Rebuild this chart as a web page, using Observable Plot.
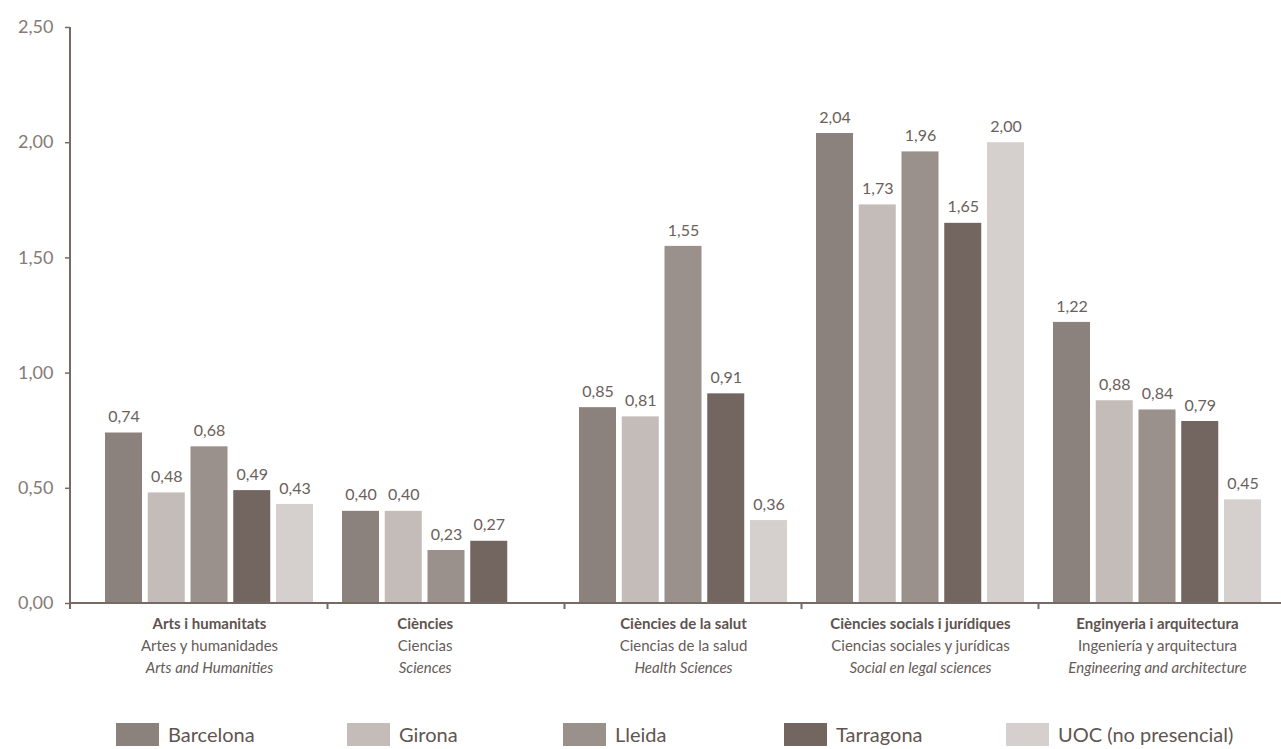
<!DOCTYPE html>
<html>
<head>
<meta charset="utf-8">
<script src="https://cdn.jsdelivr.net/npm/d3@7"></script>
<script src="https://cdn.jsdelivr.net/npm/@observablehq/plot@0.6"></script>
<style>
  html, body { margin: 0; padding: 0; background: #ffffff; }
  #wrap { position: relative; width: 1281px; height: 749px; font-family: Lato, "Open Sans", sans-serif; }
  #chart svg { display: block; }
  .lg-item { position: absolute; top: 723px; height: 23px; }
  .lg-sw { position: absolute; left: 0; top: 0; width: 43px; height: 23px; }
  .lg-tx { position: absolute; left: 52px; top: 0; line-height: 23px; font-size: 20px; color: #5f5550; white-space: nowrap; }
  g[aria-label="y-axis tick label"] text { font-size: 18px; }
</style>
</head>
<body>
<div id="wrap">
  <div id="chart"></div>
  <div id="legend"></div>
</div>
<script>
// ---- data ----
const categories = ["Arts i humanitats", "Ciències", "Ciències de la salut", "Ciències socials i jurídiques", "Enginyeria i arquitectura"];
const categoriesES = ["Artes y humanidades", "Ciencias", "Ciencias de la salud", "Ciencias sociales y jurídicas", "Ingeniería y arquitectura"];
const categoriesEN = ["Arts and Humanities", "Sciences", "Health Sciences", "Social en legal sciences", "Engineering and architecture"];
const cities = ["Barcelona", "Girona", "Lleida", "Tarragona", "UOC (no presencial)"];
const barcelona = [0.74, 0.40, 0.85, 2.04, 1.22];
const girona    = [0.48, 0.40, 0.81, 1.73, 0.88];
const lleida    = [0.68, 0.23, 1.55, 1.96, 0.84];
const tarragona = [0.49, 0.27, 0.91, 1.65, 0.79];
const uoc       = [0.43, null, 0.36, 2.00, 0.45];
const yTicks = [0, 0.5, 1, 1.5, 2, 2.5];

// ---- styles ----
const cityColors = ["#8c827d", "#c4bcb9", "#9b918c", "#736661", "#d5d0ce"];
const axisColor = "#766a65";
const legendLefts = [116, 347, 563, 784, 1006];

const series = [barcelona, girona, lleida, tarragona, uoc];
const rows = [];
categories.forEach((cat, ci) => {
  cities.forEach((city, si) => {
    const v = series[si][ci];
    if (v != null) rows.push({cat, city, value: v});
  });
});
const catRows = categories.map((cat, i) => ({
  cat, es: categoriesES[i], en: categoriesEN[i],
  n: series.filter(s => s[i] != null).length
}));
const fmt = v => v.toFixed(2).replace(".", ",");

function catLabelMarks(data, xKey, dx) {
  return [
    Plot.text(data, {fx: "cat", x: () => xKey, y: () => 0, text: "cat", dx, dy: 21,
      fontSize: 15, fontWeight: 700, fill: "#5e534f"}),
    Plot.text(data, {fx: "cat", x: () => xKey, y: () => 0, text: "es", dx, dy: 43,
      fontSize: 15, fill: "#665b57"}),
    Plot.text(data, {fx: "cat", x: () => xKey, y: () => 0, text: "en", dx, dy: 65,
      fontSize: 15, fontStyle: "italic", fill: "#665b57"})
  ];
}

const plot = Plot.plot({
  width: 1281,
  height: 710,
  marginLeft: 70,
  marginRight: 26,
  marginTop: 27,
  marginBottom: 107,
  style: {fontFamily: "Lato, 'Open Sans', sans-serif", background: "transparent", overflow: "visible"},
  fx: {domain: categories, padding: 0, axis: null, round: false, label: null},
  x: {domain: cities, paddingInner: 0.134, paddingOuter: 0, insetLeft: 35, insetRight: -6, axis: null, round: false, label: null},
  y: {domain: [0, 2.5], axis: null, label: null},
  color: {domain: cities, range: cityColors},
  marks: [
    Plot.axisY({ticks: yTicks, tickFormat: fmt, tickSize: 5, tickPadding: 12, fontSize: 18, label: null,
      stroke: axisColor, fill: "#857a76", strokeWidth: 1.5}),
    Plot.barY(rows, {fx: "cat", x: "city", y: "value", fill: "city"}),
    Plot.text(rows, {fx: "cat", x: "city", y: "value", text: d => fmt(d.value), dy: -16,
      fontSize: 16, fill: "#6b605b"}),
    ...catLabelMarks(catRows.filter(d => d.n === 5), "Lleida", 0),
    ...catLabelMarks(catRows.filter(d => d.n === 4), "Girona", 21.4)
  ]
});

document.getElementById("chart").appendChild(plot);

// axis lines derived from the plot's scales
const ys = plot.scale("y"), fxs = plot.scale("fx"), xs = plot.scale("x");
const y0 = ys.apply(0), yTop = ys.apply(2.5);
const left = 70;
const g = d3.select(plot).append("g").attr("stroke", axisColor).attr("stroke-width", 2).attr("fill", "none");
g.append("line").attr("x1", left).attr("x2", left).attr("y1", yTop).attr("y2", y0 + 6);
g.append("line").attr("x1", left).attr("x2", 1281).attr("y1", y0).attr("y2", y0);
categories.slice(1).forEach((cat, i) => {
  const prev = categories[i];
  const prevEnd = fxs.apply(prev) - left + xs.apply(cities[cities.length - 1]) + xs.bandwidth;
  const curStart = fxs.apply(cat) - left + xs.apply(cities[0]);
  const bx = (prevEnd + curStart) / 2;
  g.append("line").attr("x1", bx).attr("x2", bx).attr("y1", y0).attr("y2", y0 + 6);
});

// legend
const legend = document.getElementById("legend");
cities.forEach((city, i) => {
  const item = document.createElement("div");
  item.className = "lg-item";
  item.style.left = legendLefts[i] + "px";
  const sw = document.createElement("div");
  sw.className = "lg-sw";
  sw.style.background = cityColors[i];
  const tx = document.createElement("div");
  tx.className = "lg-tx";
  tx.textContent = city;
  item.appendChild(sw);
  item.appendChild(tx);
  legend.appendChild(item);
});
</script>
</body>
</html>
